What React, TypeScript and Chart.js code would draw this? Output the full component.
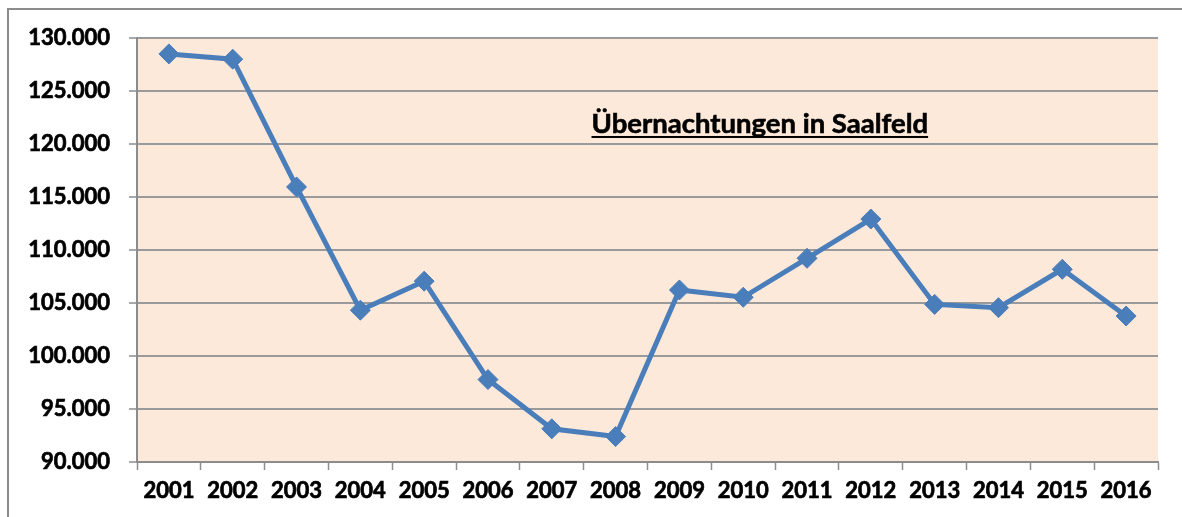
import React, { useEffect, useRef } from 'react';
import { Chart, registerables } from 'chart.js';

Chart.register(...registerables);

const years = ['2001', '2002', '2003', '2004', '2005', '2006', '2007', '2008', '2009', '2010', '2011', '2012', '2013', '2014', '2015', '2016'];
const overnightStays = [128500, 128000, 115950, 104320, 107060, 97780, 93130, 92400, 106230, 105540, 109220, 112920, 104870, 104560, 108180, 103770];
const yMin = 90000;
const yMax = 130000;
const yStep = 5000;
const chartTitle = 'Übernachtungen in Saalfeld';

const formatDe = (v: number) => String(Math.round(v)).replace(/\B(?=(\d{3})+(?!\d))/g, '.');

const plotBgPlugin = {
  id: 'plotBg',
  beforeDraw(chart: any) {
    const { ctx, chartArea } = chart;
    const { left, top, right, bottom } = chartArea;
    ctx.save();
    ctx.fillStyle = '#FDE9D9';
    ctx.fillRect(left, top, right - left, bottom - top);
    ctx.restore();
  },
};

const innerTitlePlugin = {
  id: 'innerTitle',
  beforeDatasetsDraw(chart: any) {
    const { ctx, chartArea } = chart;
    const { left, top, right, bottom } = chartArea;
    const cx = left + (right - left) * 0.61;
    const by = top + (bottom - top) * 0.224;
    ctx.save();
    ctx.font = 'bold 27.5px Lato';
    ctx.fillStyle = '#000';
    ctx.strokeStyle = '#000';
    ctx.lineWidth = 0.6;
    ctx.textAlign = 'center';
    ctx.textBaseline = 'alphabetic';
    ctx.fillText(chartTitle, cx, by);
    ctx.strokeText(chartTitle, cx, by);
    const w = ctx.measureText(chartTitle).width;
    ctx.fillRect(cx - w / 2, by + 3, w, 2);
    ctx.restore();
  },
};

export default function App() {
  const ref = useRef<HTMLCanvasElement | null>(null);

  useEffect(() => {
    if (!ref.current) return;
    const chart = new Chart(ref.current, {
      type: 'line',
      data: {
        labels: years,
        datasets: [
          {
            data: overnightStays,
            borderColor: '#4A7EBB',
            backgroundColor: '#4A7EBB',
            borderWidth: 5,
            pointStyle: 'rectRot',
            pointRadius: 10,
            pointBorderWidth: 1,
            pointBorderColor: '#4A7EBB',
            pointBackgroundColor: '#4A7EBB',
            tension: 0,
          },
        ],
      },
      options: {
        animation: false,
        responsive: false,
        maintainAspectRatio: false,
        layout: { padding: { top: 38, right: 24, left: 0, bottom: 0 } },
        plugins: { legend: { display: false }, tooltip: { enabled: false }, title: { display: false } },
        scales: {
          x: {
            type: 'category',
            offset: true,
            grid: {
              offset: true,
              drawOnChartArea: false,
              drawTicks: true,
              tickLength: 8,
              tickColor: '#8c8c8c',
              tickWidth: 1.5,
            },
            border: { display: true, color: '#8c8c8c', width: 2 },
            ticks: {
              color: '#000',
              font: { family: 'Lato', weight: 'bold', size: 22 },
              textStrokeColor: '#000',
              textStrokeWidth: 0.7,
              padding: 8,
              maxRotation: 0,
              autoSkip: false,
            },
            afterFit(scale: any) {
              scale.height = 55;
            },
          },
          y: {
            min: yMin,
            max: yMax,
            grid: {
              color: '#9a9a9a',
              lineWidth: 2,
              drawTicks: true,
              tickLength: 8,
              tickColor: '#8c8c8c',
              tickWidth: 1.5,
            },
            border: { display: true, color: '#8c8c8c', width: 2 },
            ticks: {
              stepSize: yStep,
              color: '#000',
              font: { family: 'Lato', weight: 'bold', size: 22 },
              textStrokeColor: '#000',
              textStrokeWidth: 0.7,
              padding: 19,
              callback: (v: any) => formatDe(Number(v)),
            },
            afterFit(scale: any) {
              scale.width = 137;
            },
          },
        },
      },
      plugins: [plotBgPlugin, innerTitlePlugin],
    });
    return () => chart.destroy();
  }, []);

  return (
    <div>
      <div
        style={{
          position: 'fixed',
          left: 7,
          top: 8,
          width: 1200,
          height: 600,
          borderLeft: '2px solid #8c8c8c',
          borderTop: '2px solid #8c8c8c',
          background: '#fff',
        }}
      />
      <canvas
        ref={ref}
        width={1182}
        height={517}
        style={{ position: 'fixed', left: 0, top: 0, width: 1182, height: 517, display: 'block' }}
      />
    </div>
  );
}
